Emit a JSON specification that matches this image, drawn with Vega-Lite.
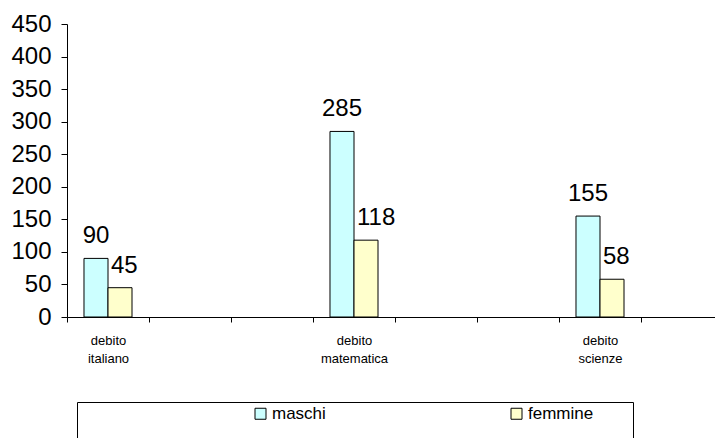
{
  "$schema": "https://vega.github.io/schema/vega-lite/v6.json",
  "width": 648,
  "height": 293,
  "autosize": {"type": "none"},
  "padding": {"left": 67, "top": 24, "right": 0, "bottom": 121},
  "config": {"view": {"stroke": null}, "font": "Liberation Sans", "background": "white"},
  "data": {
    "values": [
      {"materia": "debito italiano", "sesso": "maschi", "n": 90},
      {"materia": "debito italiano", "sesso": "femmine", "n": 45},
      {"materia": "debito matematica", "sesso": "maschi", "n": 285},
      {"materia": "debito matematica", "sesso": "femmine", "n": 118},
      {"materia": "debito scienze", "sesso": "maschi", "n": 155},
      {"materia": "debito scienze", "sesso": "femmine", "n": 58}
    ]
  },
  "encoding": {
    "x": {
      "field": "materia",
      "type": "nominal",
      "sort": null,
      "scale": {
        "domain": ["debito italiano", "_1", "_2", "debito matematica", "_3", "_4", "debito scienze", "_5"],
        "range": [0, 656],
        "paddingInner": 0,
        "paddingOuter": 0
      },
      "axis": {
        "title": null,
        "tickBand": "extent",
        "domainColor": "black",
        "tickColor": "black",
        "tickSize": 5,
        "labelAngle": 0,
        "labelFontSize": 13,
        "labelColor": "black",
        "labelBaseline": "top",
        "labelPadding": 12,
        "labelLineHeight": 18,
        "labelExpr": "indexof(datum.label, '_') == 0 ? '' : split(datum.label, ' ')"
      }
    },
    "xOffset": {
      "field": "sesso",
      "type": "nominal",
      "sort": null,
      "scale": {"domain": ["maschi", "femmine"], "paddingInner": 0, "paddingOuter": 0.708}
    },
    "y": {
      "field": "n",
      "type": "quantitative",
      "scale": {"domain": [0, 450], "nice": false},
      "axis": {
        "title": null,
        "grid": false,
        "values": [0, 50, 100, 150, 200, 250, 300, 350, 400, 450],
        "domainColor": "black",
        "tickColor": "black",
        "tickSize": 6,
        "labelFontSize": 24,
        "labelColor": "black",
        "labelPadding": 10
      }
    }
  },
  "layer": [
    {
      "mark": {"type": "bar", "stroke": "black", "strokeWidth": 1},
      "encoding": {
        "color": {
          "field": "sesso",
          "type": "nominal",
          "sort": null,
          "scale": {"domain": ["maschi", "femmine"], "range": ["#CCFFFF", "#FFFFCC"]},
          "legend": {
            "orient": "none",
            "legendX": 10,
            "legendY": 378,
            "direction": "horizontal",
            "title": "\u2800\u2800\u2800\u2800\u2800",
            "titleFont": "DejaVu Sans",
            "titleOrient": "left",
            "titleFontSize": 44,
            "titlePadding": 0,
            "titleLimit": 400,
            "padding": 3,
            "strokeColor": "black",
            "fillColor": "white",
            "symbolType": "square",
            "symbolSize": 121,
            "symbolStrokeColor": "black",
            "symbolStrokeWidth": 1,
            "symbolOpacity": 1,
            "labelFontSize": 17,
            "labelColor": "black",
            "labelOffset": 3,
            "labelLimit": 400,
            "columnPadding": 182,
            "labelExpr": "datum.label == 'femmine' ? 'femmine\u2800\u2800\u2800' : datum.label"
          }
        }
      }
    },
    {
      "transform": [{"filter": "datum.sesso == 'maschi'"}],
      "mark": {"type": "text", "fontSize": 24, "baseline": "alphabetic", "dy": -15, "align": "center", "color": "black"},
      "encoding": {"text": {"field": "n", "type": "quantitative"}}
    },
    {
      "transform": [{"filter": "datum.sesso == 'femmine'"}],
      "mark": {"type": "text", "fontSize": 24, "baseline": "alphabetic", "dy": -15, "align": "left", "dx": -9, "color": "black"},
      "encoding": {"text": {"field": "n", "type": "quantitative"}}
    }
  ]
}
